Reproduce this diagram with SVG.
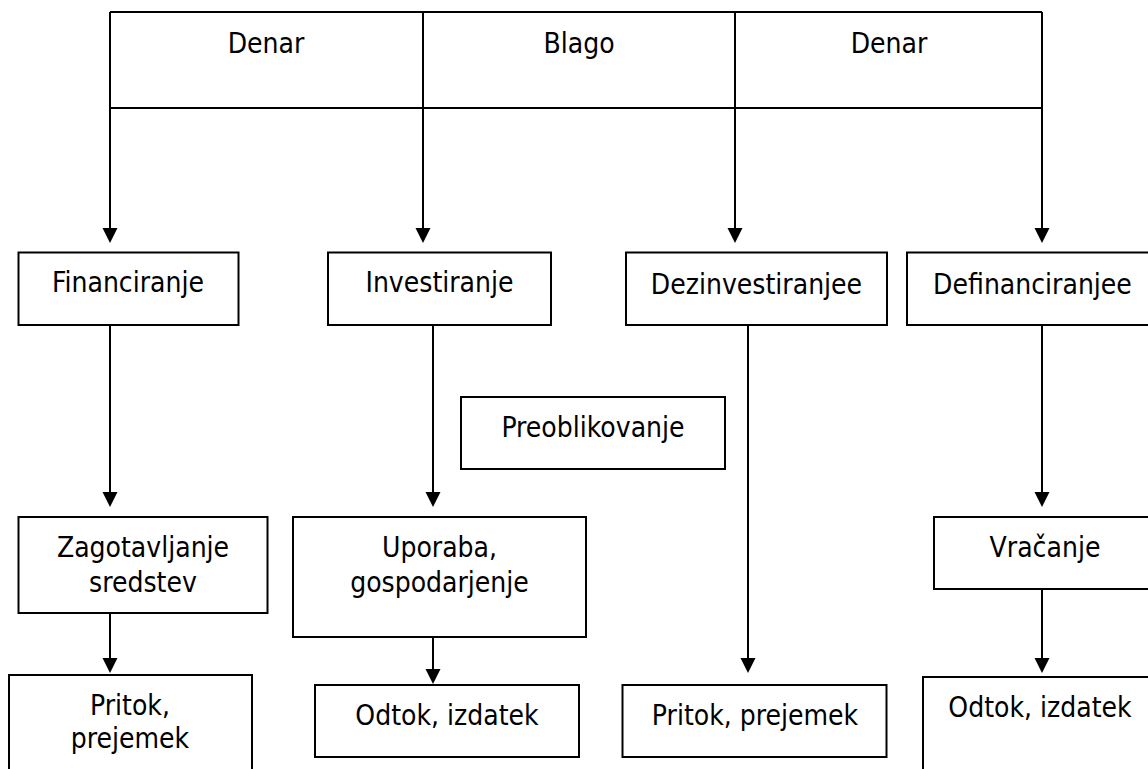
<svg xmlns="http://www.w3.org/2000/svg" width="1148" height="769" viewBox="0 0 1148 769">
  <style>
    .box { fill: #fff; stroke: #000; stroke-width: 2; }
    .rule { stroke: #000; stroke-width: 2; fill: none; }
    .wire { stroke: #000; stroke-width: 2; fill: none; marker-end: url(#arrow); }
    text { font-family: "DejaVu Sans Condensed", "DejaVu Sans", Verdana, sans-serif; font-stretch: condensed; font-size: 28px; fill: #000; text-anchor: middle; }
  </style>
  <defs>
    <marker id="arrow" markerWidth="16" markerHeight="16" refX="5" refY="7.5" orient="auto" markerUnits="userSpaceOnUse">
      <path d="M0,0 L15,7.5 L0,15 z" fill="#000"/>
    </marker>
  </defs>
  <rect width="1148" height="769" fill="#fff"/>

  <!-- header table: money / goods / money -->
  <g id="header">
    <line class="rule" x1="110" y1="12" x2="1042" y2="12"/>
    <line class="rule" x1="110" y1="108" x2="1042" y2="108"/>
    <line class="rule" x1="110" y1="12" x2="110" y2="108"/>
    <line class="rule" x1="423" y1="12" x2="423" y2="108"/>
    <line class="rule" x1="735" y1="12" x2="735" y2="108"/>
    <line class="rule" x1="1042" y1="12" x2="1042" y2="108"/>
    <text x="266" y="53">Denar</text>
    <text x="579" y="53">Blago</text>
    <text x="889" y="53">Denar</text>
  </g>

  <g id="connectors">
    <line class="wire" x1="110" y1="107" x2="110" y2="233"/>
    <line class="wire" x1="423" y1="107" x2="423" y2="233"/>
    <line class="wire" x1="735" y1="107" x2="735" y2="233"/>
    <line class="wire" x1="1042" y1="107" x2="1042" y2="233"/>
    <line class="wire" x1="110" y1="325" x2="110" y2="497"/>
    <line class="wire" x1="433" y1="325" x2="433" y2="497"/>
    <line class="wire" x1="748" y1="325" x2="748" y2="663"/>
    <line class="wire" x1="1042" y1="325" x2="1042" y2="497"/>
    <line class="wire" x1="110" y1="613" x2="110" y2="663"/>
    <line class="wire" x1="433" y1="637" x2="433" y2="674"/>
    <line class="wire" x1="1042" y1="589" x2="1042" y2="663"/>
  </g>

  <g id="financiranje">
    <rect class="box" x="18.5" y="252.5" width="220" height="72.5"/>
    <text x="128" y="292">Financiranje</text>
  </g>
  <g id="investiranje">
    <rect class="box" x="328" y="252.5" width="223" height="72.5"/>
    <text x="439.5" y="292">Investiranje</text>
  </g>
  <g id="dezinvestiranje">
    <rect class="box" x="626" y="252.5" width="261" height="72.5"/>
    <text x="756.5" y="294">Dezinvestiranjee</text>
  </g>
  <g id="definanciranje">
    <rect class="box" x="907" y="252.5" width="251" height="72.5"/>
    <text x="1032.5" y="294">Definanciranjee</text>
  </g>
  <g id="preoblikovanje">
    <rect class="box" x="461" y="397" width="264" height="72"/>
    <text x="593" y="437">Preoblikovanje</text>
  </g>
  <g id="zagotavljanje">
    <rect class="box" x="18.5" y="517" width="249" height="96"/>
    <text x="143" y="557">Zagotavljanje</text>
    <text x="143" y="592">sredstev</text>
  </g>
  <g id="uporaba">
    <rect class="box" x="293" y="517" width="293" height="120"/>
    <text x="439.5" y="557">Uporaba,</text>
    <text x="439.5" y="592">gospodarjenje</text>
  </g>
  <g id="vracanje">
    <rect class="box" x="934" y="517" width="224" height="72"/>
    <text x="1045" y="557">Vračanje</text>
  </g>
  <g id="pritok-levo">
    <rect class="box" x="9" y="675" width="243" height="110"/>
    <text x="130" y="715">Pritok,</text>
    <text x="130" y="748">prejemek</text>
  </g>
  <g id="odtok-sredina">
    <rect class="box" x="315" y="685" width="264" height="72"/>
    <text x="447" y="725">Odtok, izdatek</text>
  </g>
  <g id="pritok-sredina">
    <rect class="box" x="622.5" y="685" width="264" height="72"/>
    <text x="755" y="725">Pritok, prejemek</text>
  </g>
  <g id="odtok-desno">
    <rect class="box" x="923" y="677" width="235" height="110"/>
    <text x="1040" y="717">Odtok, izdatek</text>
  </g>
</svg>
